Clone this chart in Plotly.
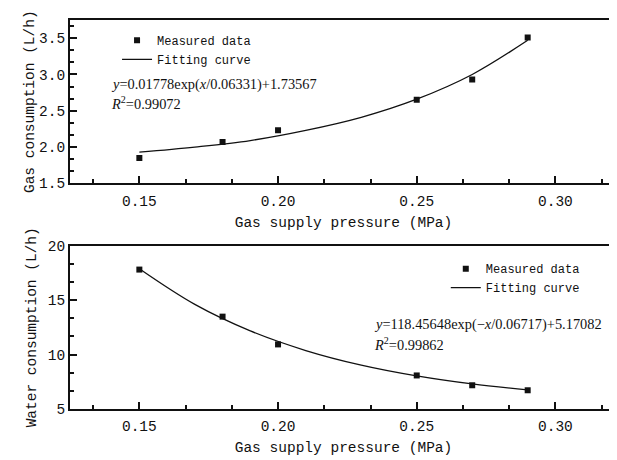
import plotly.graph_objects as go

# ---- data ----
pressure = [0.15, 0.18, 0.20, 0.25, 0.27, 0.29]
gas_measured = [1.85, 2.07, 2.23, 2.65, 2.93, 3.51]
water_measured = [17.80, 13.48, 10.93, 8.08, 7.18, 6.72]

fit_pressure = [0.15, 0.17, 0.19, 0.21, 0.23, 0.25, 0.27, 0.29]
gas_fit = [1.93, 2.00, 2.09, 2.23, 2.41, 2.66, 3.00, 3.47]
water_fit = [17.87, 14.60, 12.17, 10.37, 9.03, 8.04, 7.30, 6.75]

x_tickvals = [0.15, 0.20, 0.25, 0.30]
x_ticktext = ["0.15", "0.20", "0.25", "0.30"]
gas_tickvals = [1.5, 2.0, 2.5, 3.0, 3.5]
gas_ticktext = ["1.5", "2.0", "2.5", "3.0", "3.5"]
water_tickvals = [5, 10, 15, 20]
water_ticktext = ["5", "10", "15", "20"]

x_title = "Gas supply pressure (MPa)"
gas_title = "Gas consumption (L/h)"
water_title = "Water consumption (L/h)"
gas_eq = "<i>y</i>=0.01778exp(<i>x</i>/0.06331)+1.73567"
gas_r2 = "<i>R</i><sup>2</sup>=0.99072"
water_eq = "<i>y</i>=118.45648exp(\u2212<i>x</i>/0.06717)+5.17082"
water_r2 = "<i>R</i><sup>2</sup>=0.99862"

MONO = "Liberation Mono"
SERIF = "Liberation Serif"
INK = "#111111"

fig = go.Figure()

fig.add_trace(go.Scatter(x=pressure, y=gas_measured, mode="markers", name="Measured data",
                         marker=dict(symbol="square", size=6, color=INK),
                         xaxis="x", yaxis="y", legend="legend"))
fig.add_trace(go.Scatter(x=fit_pressure, y=gas_fit, mode="lines", name="Fitting curve",
                         line=dict(color=INK, width=1.3, shape="spline"),
                         xaxis="x", yaxis="y", legend="legend"))
fig.add_trace(go.Scatter(x=pressure, y=water_measured, mode="markers", name="Measured data",
                         marker=dict(symbol="square", size=6, color=INK),
                         xaxis="x2", yaxis="y2", legend="legend2"))
fig.add_trace(go.Scatter(x=fit_pressure, y=water_fit, mode="lines", name="Fitting curve",
                         line=dict(color=INK, width=1.3, shape="spline"),
                         xaxis="x2", yaxis="y2", legend="legend2"))

xcommon = dict(range=[0.125, 0.3222], tickvals=x_tickvals, ticktext=x_ticktext,
               ticks="inside", ticklen=7, tickwidth=1.5, tickcolor=INK,
               minor=dict(dtick=0.05 / 3, tick0=0.15, ticks="inside", ticklen=4,
                          tickwidth=1.5, tickcolor=INK),
               showline=True, linecolor=INK, linewidth=1.8, mirror=True,
               showgrid=False, zeroline=False, automargin=False,
               ticklabelstandoff=3,
               tickfont=dict(family=MONO, size=14.5, color=INK),
               title=dict(text=x_title, font=dict(family=MONO, size=14.5, color=INK), standoff=8))
ycommon = dict(ticks="inside", ticklen=7, tickwidth=1.5, tickcolor=INK,
               showline=True, linecolor=INK, linewidth=1.8, mirror=False,
               showgrid=False, zeroline=False, automargin=False,
               tickfont=dict(family=MONO, size=14.5, color=INK))

fig.update_layout(
    template="none",
    width=609, height=452,
    margin=dict(l=62, r=0, t=12, b=51, autoexpand=False),
    paper_bgcolor="white", plot_bgcolor="white",
    xaxis=dict(domain=[0, 1], anchor="y", **xcommon),
    yaxis=dict(domain=[0.58, 1], anchor="x", range=[1.5, 3.75],
               tickvals=gas_tickvals, ticktext=gas_ticktext,
               minor=dict(dtick=0.5 / 3, tick0=1.5, ticks="inside", ticklen=4,
                          tickwidth=1.5, tickcolor=INK),
               title=dict(text=gas_title, font=dict(family=MONO, size=14.5, color=INK), standoff=1),
               **ycommon),
    xaxis2=dict(domain=[0, 1], anchor="y2", **xcommon),
    yaxis2=dict(domain=[0, 0.42], anchor="x2", range=[5, 20],
                tickvals=water_tickvals, ticktext=water_ticktext,
                minor=dict(dtick=5 / 3, tick0=5, ticks="inside", ticklen=4,
                           tickwidth=1.5, tickcolor=INK),
                title=dict(text=water_title, font=dict(family=MONO, size=14.5, color=INK), standoff=8),
                **ycommon),
    legend=dict(x=0.086, y=0.985, xanchor="left", yanchor="top",
                bgcolor="rgba(0,0,0,0)", borderwidth=0,
                font=dict(family=MONO, size=12, color=INK), tracegroupgap=0),
    legend2=dict(x=0.687, y=0.398, xanchor="left", yanchor="top",
                 bgcolor="rgba(0,0,0,0)", borderwidth=0,
                 font=dict(family=MONO, size=12, color=INK), tracegroupgap=0),
    showlegend=True,
)

annots = [
    dict(text=gas_eq, x=0.0715, y=0.833, xanchor="left", yanchor="middle"),
    dict(text=gas_r2, x=0.0715, y=0.787, xanchor="left", yanchor="middle"),
    dict(text=water_eq, x=0.5526, y=0.216, xanchor="left", yanchor="middle"),
    dict(text=water_r2, x=0.5526, y=0.168, xanchor="left", yanchor="middle"),
]
for a in annots:
    fig.add_annotation(xref="paper", yref="paper", showarrow=False,
                       font=dict(family=SERIF, size=14.4, color=INK), **a)

fig.write_html("out.html")
